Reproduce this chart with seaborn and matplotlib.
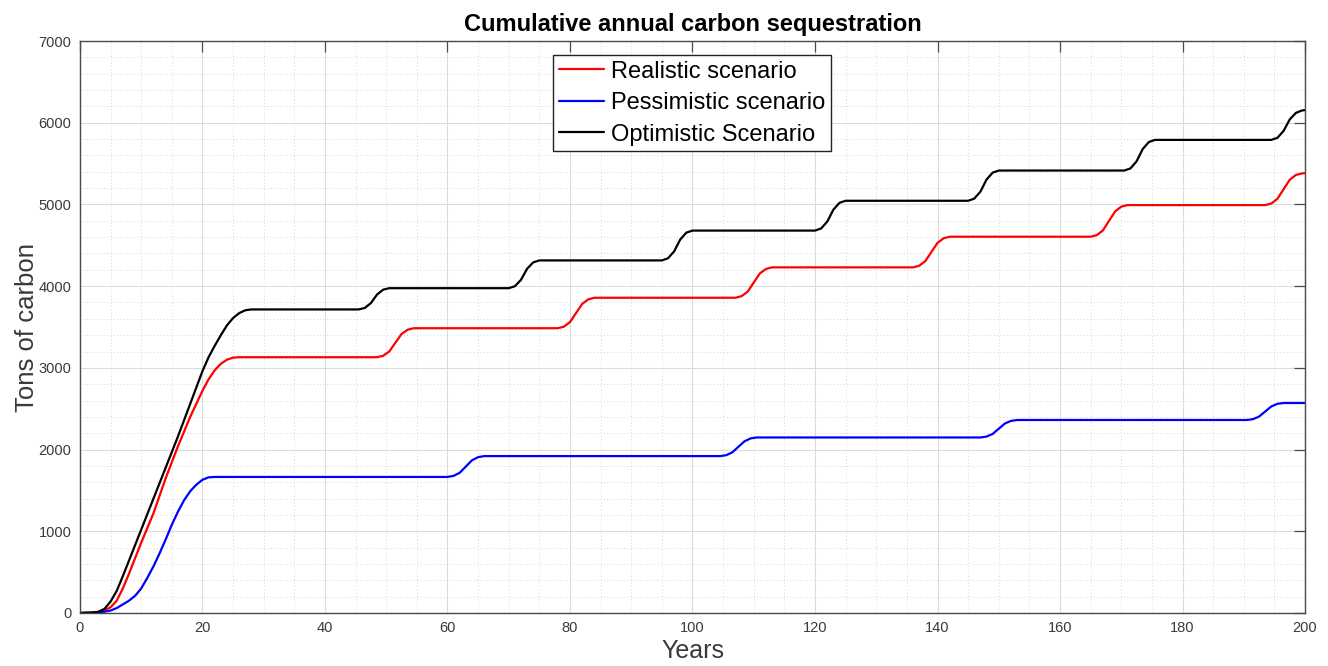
import numpy as np
import pandas as pd
import matplotlib
matplotlib.use("Agg")
import matplotlib.pyplot as plt
import seaborn as sns
from matplotlib.ticker import MultipleLocator

# Data (year, tons of carbon)
realistic_years = [0, 2, 3, 4, 5, 6, 7, 8, 10, 12, 14, 16, 18, 20, 21, 22, 23, 24, 25, 26,
                   48.5, 49.5, 50.5, 51.5, 52.5, 53.5, 54.5,
                   78, 79, 80, 81, 82, 83, 84,
                   107, 108, 109, 110, 111, 112, 113,
                   136, 137, 138, 139, 140, 141, 142,
                   165, 166, 167, 168, 169, 170, 171,
                   193.5, 194.5, 195.5, 196.5, 197.5, 198.5, 199.5, 200]
realistic_vals = [0, 4, 10, 30, 70, 150, 300, 480, 860, 1220, 1650, 2040, 2400, 2720, 2860, 2970, 3050, 3100, 3125, 3130,
                  3130, 3148, 3201, 3308, 3414, 3467, 3485,
                  3485, 3504, 3560, 3672, 3783, 3839, 3858,
                  3858, 3877, 3932, 4044, 4156, 4211, 4230,
                  4230, 4249, 4305, 4418, 4530, 4586, 4605,
                  4605, 4624, 4682, 4799, 4915, 4973, 4992,
                  4992, 5011, 5070, 5186, 5302, 5361, 5380, 5382]

pessimistic_years = [0, 2, 4, 5, 6, 7, 8, 9, 10, 11, 12, 13, 14, 15, 16, 17, 18, 19, 20, 21, 22,
                     60, 61, 62, 63, 64, 65, 66,
                     104.5, 105.5, 106.5, 107.5, 108.5, 109.5, 110.5,
                     147, 148, 149, 150, 151, 152, 153,
                     190.5, 191.5, 192.5, 193.5, 194.5, 195.5, 196.5, 200]
pessimistic_vals = [0, 3, 15, 30, 60, 105, 150, 210, 300, 430, 570, 730, 900, 1080, 1240, 1380, 1490, 1570, 1630, 1660, 1665,
                    1665, 1678, 1716, 1792, 1869, 1907, 1920,
                    1920, 1931, 1966, 2034, 2102, 2137, 2148,
                    2148, 2159, 2191, 2255, 2319, 2351, 2362,
                    2362, 2372, 2404, 2466, 2528, 2560, 2570, 2570]

optimistic_years = [0, 2, 3, 4, 5, 6, 7, 8, 10, 12, 14, 16, 18, 20, 21, 22, 23, 24, 25, 26, 27, 28,
                    45.5, 46.5, 47.5, 48.5, 49.5, 50.5,
                    70, 71, 72, 73, 74, 75,
                    95, 96, 97, 98, 99, 100,
                    120, 121, 122, 123, 124, 125,
                    145, 146, 147, 148, 149, 150,
                    170.5, 171.5, 172.5, 173.5, 174.5, 175.5,
                    194.5, 195.5, 196.5, 197.5, 198.5, 199.5, 200]
optimistic_vals = [0, 5, 15, 50, 140, 270, 450, 640, 1020, 1400, 1780, 2160, 2560, 2960, 3130, 3270, 3400, 3520, 3610, 3670, 3705, 3715,
                   3715, 3733, 3793, 3897, 3957, 3975,
                   3975, 3999, 4077, 4213, 4291, 4315,
                   4315, 4341, 4425, 4571, 4655, 4680,
                   4680, 4706, 4790, 4936, 5020, 5045,
                   5045, 5071, 5156, 5304, 5389, 5415,
                   5415, 5441, 5528, 5678, 5764, 5790,
                   5790, 5816, 5900, 6040, 6120, 6150, 6155]

sns.set_style("whitegrid")
plt.rcParams['font.family'] = ['Liberation Sans', 'DejaVu Sans']

fig = plt.figure(figsize=(13.28, 6.66), dpi=100)
ax = fig.add_axes([0.0602, 0.0796, 0.9225, 0.8588])

sns.lineplot(x=realistic_years, y=realistic_vals, color="#ff0000", linewidth=1.6,
             label="Realistic scenario", ax=ax, sort=False)
sns.lineplot(x=pessimistic_years, y=pessimistic_vals, color="#0000ff", linewidth=1.6,
             label="Pessimistic scenario", ax=ax, sort=False)
sns.lineplot(x=optimistic_years, y=optimistic_vals, color="#000000", linewidth=1.6,
             label="Optimistic Scenario", ax=ax, sort=False)

ax.set_xlim(0, 200)
ax.set_ylim(0, 7000)
ax.xaxis.set_major_locator(MultipleLocator(20))
ax.xaxis.set_minor_locator(MultipleLocator(5))
ax.yaxis.set_major_locator(MultipleLocator(1000))
ax.yaxis.set_minor_locator(MultipleLocator(200))

ax.grid(True, which="major", color="#dcdcdc", linestyle="-", linewidth=0.8)
ax.grid(True, which="minor", color="#c8c8c8", linestyle=(0, (1, 3)), linewidth=0.6)
ax.set_axisbelow(True)

for s in ax.spines.values():
    s.set_color("#4a4a4a")
    s.set_linewidth(1.0)
    s.set_visible(True)

ax.tick_params(which="major", direction="in", length=8, width=0.9, color="#4a4a4a",
               top=True, right=True, labelsize=10.5, labelcolor="#3a3a3a", pad=6)
ax.tick_params(which="minor", length=0, top=True, right=True)

ax.set_title("Cumulative annual carbon sequestration", fontsize=17, fontweight="bold",
             color="#000000", pad=7)
ax.set_xlabel("Years", fontsize=18, color="#3a3a3a", labelpad=3)
ax.set_ylabel("Tons of carbon", fontsize=18.5, color="#3a3a3a", labelpad=0)

leg = ax.legend(loc="upper center", bbox_to_anchor=(0.4996, 0.976), fontsize=17,
                frameon=True, fancybox=False, framealpha=1, edgecolor="#222222",
                handlelength=1.9, handletextpad=0.3, borderpad=0.25, labelspacing=0.4,
                borderaxespad=0)
leg.get_frame().set_linewidth(1.0)
for t in leg.get_texts():
    t.set_color("#000000")

fig.savefig("out.png", dpi=100)
